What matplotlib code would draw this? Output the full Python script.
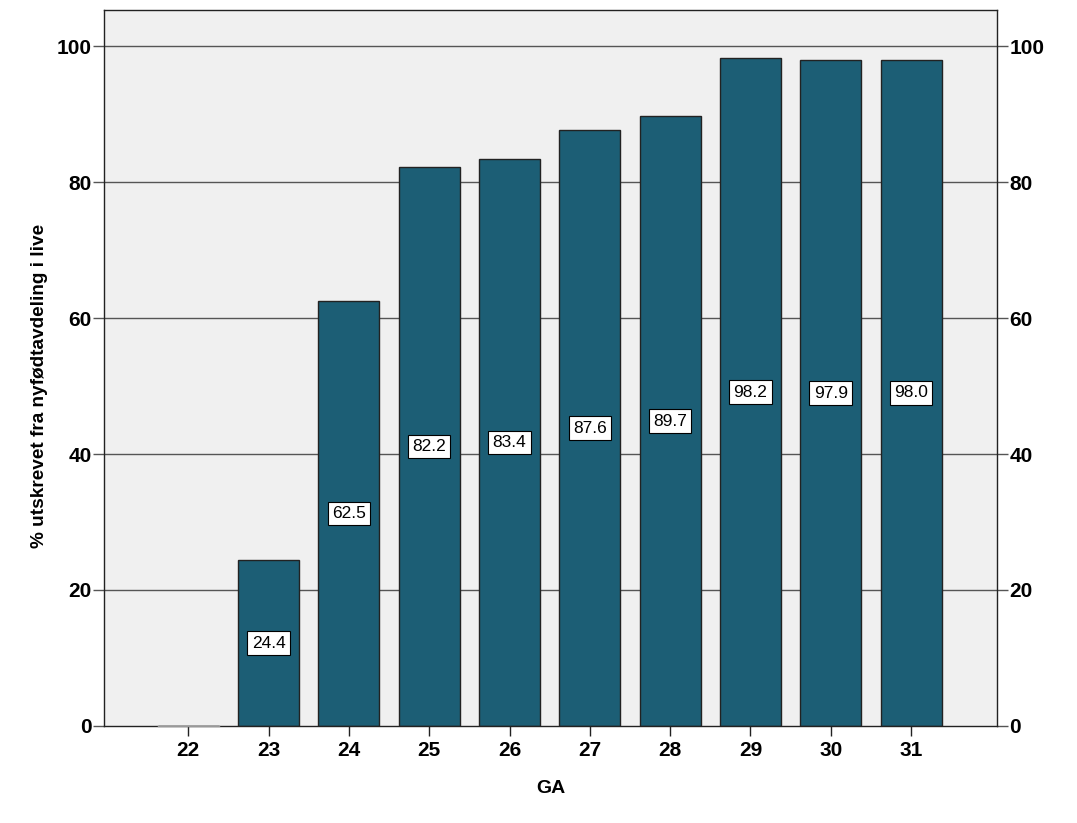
import matplotlib.pyplot as plt

plt.rcParams['font.family'] = ['Liberation Sans', 'DejaVu Sans']

ga = [22, 23, 24, 25, 26, 27, 28, 29, 30, 31]
pct_alive = [0.0, 24.4, 62.5, 82.2, 83.4, 87.6, 89.7, 98.2, 97.9, 98.0]
y_ticks = [0, 20, 40, 60, 80, 100]


def plot_bars():
    fig = plt.figure(figsize=(10.77, 8.23), dpi=100)
    ax = fig.add_axes([0.0966, 0.1179, 0.8291, 0.8699])
    ax.set_facecolor('#f0f0f0')

    ax.set_xlim(20.95, 32.07)
    ax.set_ylim(0, 105.3)

    for y in y_ticks[1:]:
        ax.axhline(y, color='#555555', linewidth=1.0, zorder=1)

    bars = ax.bar(ga, pct_alive, width=0.76, color='#1c5e75',
                  edgecolor='#222222', linewidth=1.0, zorder=2)
    # bar with value 0 only shows as a thin grey line
    ax.plot([ga[0] - 0.38, ga[0] + 0.38], [0, 0], color='#999999',
            linewidth=1.0, zorder=3, clip_on=False)

    for b, v in zip(bars, pct_alive):
        if v <= 0:
            continue
        ax.text(b.get_x() + b.get_width() / 2, v / 2, f'{v:.1f}',
                ha='center', va='center', fontsize=12.5, zorder=4,
                bbox=dict(boxstyle='square,pad=0.25', facecolor='white',
                          edgecolor='black', linewidth=0.8))

    ax.set_xticks(ga)
    ax.set_xticklabels([str(g) for g in ga], fontsize=15, fontweight='bold')
    ax.set_yticks(y_ticks)
    ax.set_yticklabels([str(y) for y in y_ticks], fontsize=15, fontweight='bold')
    ax.tick_params(axis='y', which='both', left=True, right=True,
                   labelleft=True, labelright=True, length=8, width=1,
                   color='#555555', pad=1)
    ax.tick_params(axis='x', length=7, width=1, color='#222222', pad=4)

    for s in ax.spines.values():
        s.set_color('#222222')
        s.set_linewidth(1.0)

    ax.set_xlabel('GA', fontsize=14, fontweight='bold', labelpad=14)
    ax.set_ylabel('% utskrevet fra nyfødtavdeling i live', fontsize=13.7,
                  fontweight='bold')
    ax.yaxis.set_label_coords(-0.063, 0.475)

    fig.savefig('out.png', dpi=100)


if __name__ == '__main__':
    plot_bars()
